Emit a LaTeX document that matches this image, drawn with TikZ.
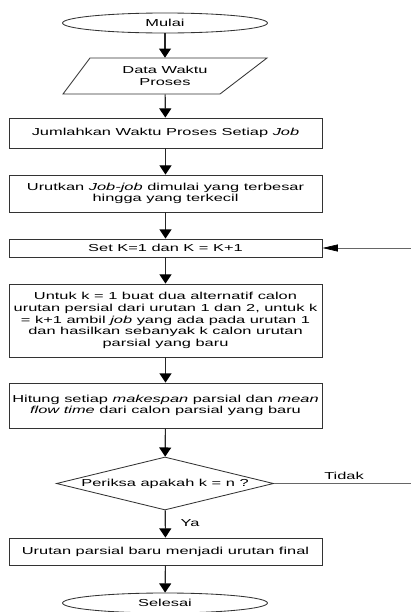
\documentclass[tikz,border=0pt]{standalone}
\usepackage{fontspec}
\setmainfont[FakeStretch=1.62]{Liberation Sans}
\usetikzlibrary{shapes.geometric, arrows.meta}

\begin{document}
\begin{tikzpicture}[x=0.025cm, y=-0.025cm,
    font=\fontsize{7.2}{8.3}\selectfont,
    every node/.style={inner sep=0pt},
    term/.style={draw=black!80, line width=0.6pt, ellipse, minimum width=5.12cm, minimum height=0.5cm},
    proc/.style={draw=black!80, line width=0.6pt, rectangle, minimum width=7.825cm, align=center},
    dec/.style={draw=black!80, line width=0.6pt, diamond, minimum width=5.425cm, minimum height=1.325cm},
    arr/.style={draw=black!85, line width=0.8pt, -{Triangle[length=6.5pt, width=8.5pt, color=black]}},
    back/.style={draw=black!60, line width=0.5pt, -{Triangle[length=11pt, width=5pt, color=black]}}]
    \clip (0,0) rectangle (411,612);

    % Start and input
    \node[term] (mulai) at (165,23) {Mulai};
    \node[minimum width=4.4cm, minimum height=0.9cm, align=center] (data) at (165,76) {Data Waktu\\Proses};
    \draw[draw=black!80, line width=0.6pt] (90,58) -- (267,58) -- (220,94) -- (63,94) -- cycle;

    % Process steps
    \node[proc, minimum height=0.75cm] (jumlah) at (165.5,133) {Jumlahkan Waktu Proses Setiap \textit{Job}};
    \node[proc, minimum height=0.925cm] (urut) at (165.5,193.5) {Urutkan \textit{Job-job} dimulai yang terbesar\\hingga yang terkecil};
    \node[proc, minimum height=0.45cm] (set) at (165.5,248) {Set K=1 dan K = K+1};
    \node[proc, minimum height=1.825cm] (untuk) at (165.5,320.5) {Untuk k = 1 buat dua alternatif calon\\urutan persial dari urutan 1 dan 2, untuk k\\= k+1 ambil \textit{job} yang ada pada urutan 1\\dan hasilkan sebanyak k calon urutan\\parsial yang baru};
    \node[proc, minimum height=1.125cm] (hitung) at (165.5,405.5) {Hitung setiap \textit{makespan} parsial dan \textit{mean}\\\textit{flow time} dari calon parsial yang baru};

    % Decision
    \node[dec, label=center:{Periksa apakah k = n ?}] (cek) at (165,483.5) {};
    \node (tidak) at (344,476) {Tidak};
    \node (ya) at (190,523) {Ya};

    % End
    \node[proc, minimum height=0.675cm] (final) at (165.5,551.5) {Urutan parsial baru menjadi urutan final};
    \node[term] (selesai) at (165,603) {Selesai};

    \draw[arr] (mulai) -- (data);
    \draw[arr] (data) -- (jumlah);
    \draw[arr] (jumlah) -- (urut);
    \draw[arr] (urut) -- (set);
    \draw[arr] (set) -- (untuk);
    \draw[arr] (untuk) -- (hitung);
    \draw[arr] (hitung) -- (cek);
    \draw[arr] (cek) -- (final);
    \draw[arr] (final) -- (selesai);

    % Loop back (Tidak)
    \coordinate (kanan) at (420,483.5);
    \draw[back] (cek.east) -- (kanan) |- (set.east);
\end{tikzpicture}
\end{document}
